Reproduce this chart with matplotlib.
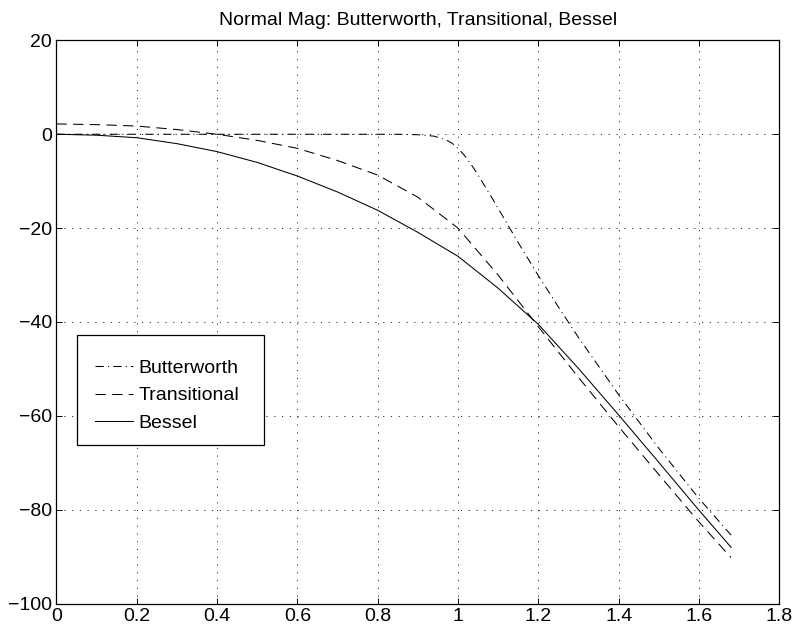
import matplotlib
matplotlib.use("Agg")
import matplotlib.pyplot as plt
from matplotlib.patches import Rectangle

plt.rcParams['font.family'] = ['Liberation Sans', 'DejaVu Sans']
plt.rcParams['lines.scale_dashes'] = False

# Normalized frequency and magnitude (dB) of each filter response
butter_w = [0, 0.2, 0.4, 0.6, 0.8, 0.85, 0.9, 0.94, 0.97, 0.985, 1.0, 1.015,
            1.03, 1.045, 1.06, 1.08, 1.1, 1.15, 1.2, 1.25, 1.3, 1.4, 1.5,
            1.6, 1.68]
butter_db = [0, 0, 0, 0, 0, 0, -0.1, -0.4, -1.2, -1.9, -3.0, -4.4,
             -6.1, -8.0, -10.1, -12.9, -15.8, -23.1, -30.1, -36.8, -43.3,
             -55.5, -66.9, -77.6, -85.4]

freq_w = [0, 0.1, 0.2, 0.3, 0.4, 0.5, 0.6, 0.7, 0.8, 0.9, 1.0, 1.1, 1.2,
          1.3, 1.4, 1.5, 1.6, 1.68]
trans_db = [2.2, 2.05, 1.75, 1.0, 0.0, -1.3, -3.0, -5.6, -8.7, -13.4, -20.0,
            -30.0, -41.0, -51.8, -62.3, -72.5, -82.6, -90.2]
bessel_db = [0, -0.2, -0.74, -2.0, -3.7, -6.0, -8.9, -12.3, -16.2, -20.9,
             -26.0, -32.8, -40.5, -49.9, -59.8, -69.9, -80.1, -88.0]

series_names = ["Butterworth", "Transitional", "Bessel"]
x_ticks = [0, 0.2, 0.4, 0.6, 0.8, 1, 1.2, 1.4, 1.6, 1.8]
x_tick_labels = ["0", "0.2", "0.4", "0.6", "0.8", "1", "1.2", "1.4", "1.6", "1.8"]
y_ticks = [-100, -80, -60, -40, -20, 0, 20]
y_tick_labels = ["\u2212100", "\u221280", "\u221260", "\u221240", "\u221220", "0", "20"]

fs = 14

fig = plt.figure(figsize=(7.99, 6.31), dpi=100)
ax = fig.add_axes([0.0706, 0.0434, 0.9047, 0.8926])

lw = 0.75
ax.plot(butter_w, butter_db, color="black", lw=lw,
        dashes=(6.0, 3.0, 0.8, 3.0), label=series_names[0])
ax.plot(freq_w, trans_db, color="black", lw=lw,
        dashes=(7.5, 4.5), label=series_names[1])
ax.plot(freq_w, bessel_db, color="black", lw=lw, linestyle="-",
        label=series_names[2])

ax.set_xlim(0, 1.8)
ax.set_ylim(-100, 20)
ax.set_xticks(x_ticks)
ax.set_xticklabels(x_tick_labels)
ax.set_yticks(y_ticks)
ax.set_yticklabels(y_tick_labels)
ax.tick_params(direction="in", length=4, width=0.7, top=True, right=True,
               labelsize=fs, pad=3)
ax.grid(True, color="black", linestyle=(0, (0.8, 4.8)), linewidth=0.6)
for sp in ax.spines.values():
    sp.set_linewidth(0.9)

ax.set_title("Normal Mag: Butterworth, Transitional, Bessel", fontsize=fs, pad=11)

# Legend drawn without its own frame, boxed by a white rectangle
box = Rectangle((0.0289, 0.2816), 0.2587, 0.1953, transform=ax.transAxes,
                facecolor="white", edgecolor="black", linewidth=0.9, zorder=4)
ax.add_patch(box)
leg = ax.legend(loc="center left", bbox_to_anchor=(0.0396, 0.3695),
                frameon=False, fontsize=fs, borderpad=0, handlelength=1.96,
                handletextpad=0.3, labelspacing=0.5)
leg.set_zorder(5)

fig.savefig("out.png", dpi=100)
